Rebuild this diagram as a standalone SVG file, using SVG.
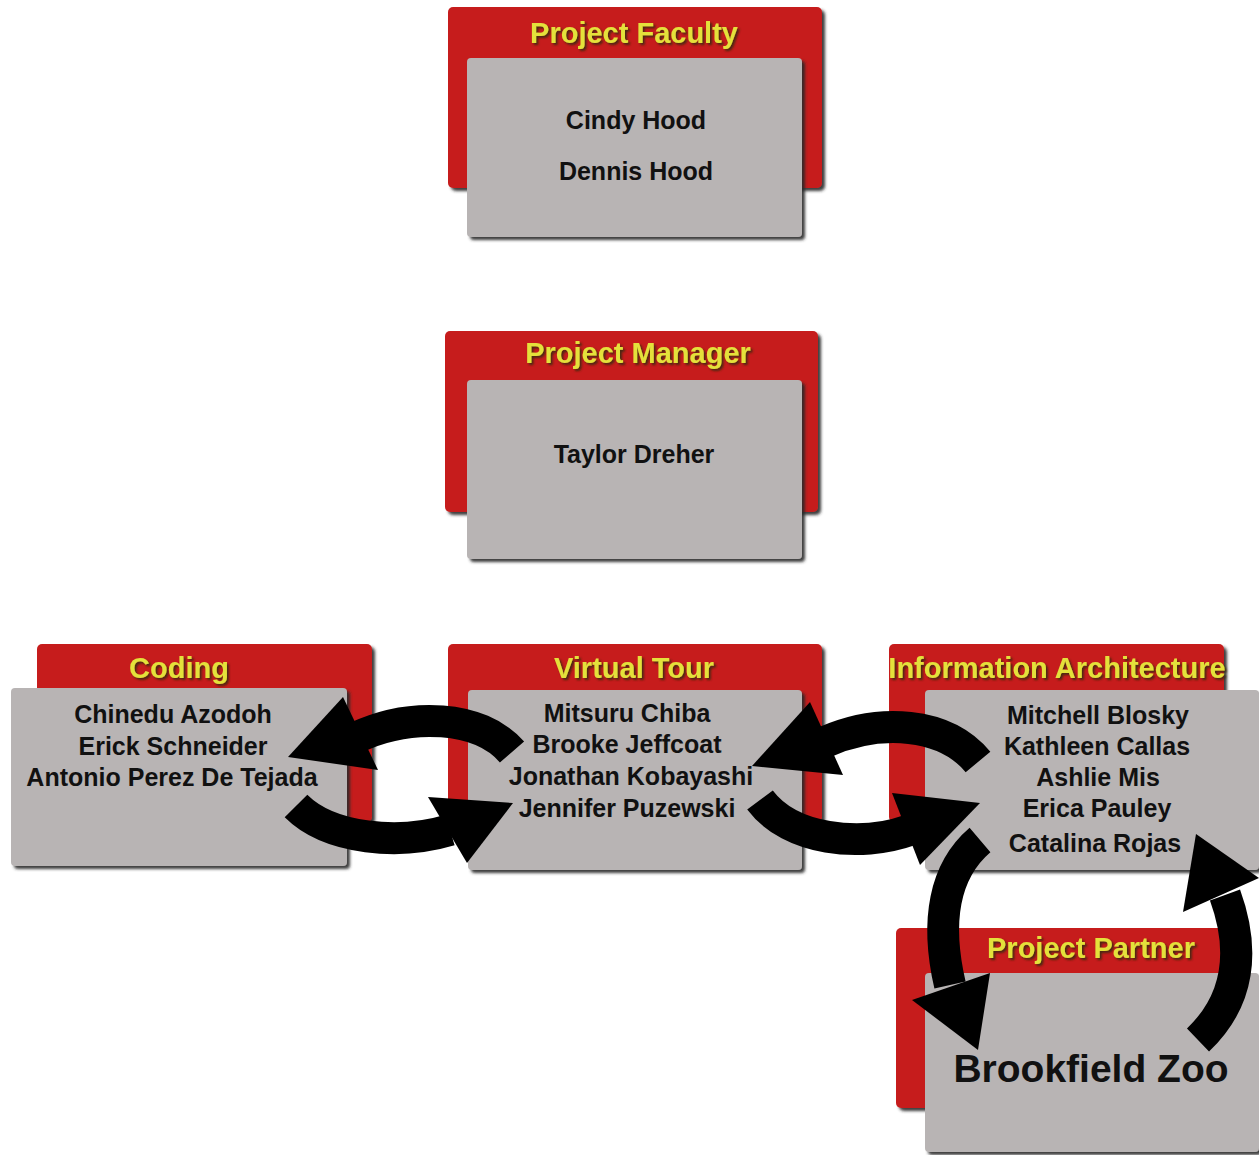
<svg xmlns="http://www.w3.org/2000/svg" width="1259" height="1155" viewBox="0 0 1259 1155">
<defs>
<filter id="sh" x="-5%" y="-5%" width="115%" height="115%"><feDropShadow dx="3" dy="3" stdDeviation="1.5" flood-color="#2a2a2a" flood-opacity="0.9"/></filter>
<filter id="tsh" x="-5%" y="-20%" width="115%" height="150%"><feDropShadow dx="2" dy="2" stdDeviation="1" flood-color="#3a2a10" flood-opacity="0.9"/></filter>
<style>
.red{fill:#c61f1f;filter:url(#sh)}
.gray{fill:#b8b4b4;filter:url(#sh)}
.title{font-family:"Liberation Sans",Arial,sans-serif;font-weight:bold;font-size:29px;fill:#e4e13a;text-anchor:middle;filter:url(#tsh)}
.name{font-family:"Liberation Sans",Arial,sans-serif;font-weight:bold;font-size:25px;fill:#111;text-anchor:middle}
.big{font-family:"Liberation Sans",Arial,sans-serif;font-weight:bold;font-size:39px;fill:#111;text-anchor:middle}
.shaft{fill:none;stroke:#000;stroke-width:32}
.head{fill:#000}
</style>
</defs>

<g id="faculty">
<rect class="red" x="448" y="7" width="374" height="181" rx="5"/>
<rect class="gray" x="467" y="58" width="335" height="179" rx="4"/>
<text class="title" x="634" y="43">Project Faculty</text>
<text class="name" x="636" y="129">Cindy Hood</text>
<text class="name" x="636" y="180">Dennis Hood</text>
</g>

<g id="manager">
<rect class="red" x="445" y="331" width="373" height="181" rx="5"/>
<rect class="gray" x="467" y="380" width="335" height="179" rx="4"/>
<text class="title" x="638" y="363">Project Manager</text>
<text class="name" x="634" y="463">Taylor Dreher</text>
</g>

<g id="coding">
<rect class="red" x="37" y="644" width="335" height="178" rx="5"/>
<rect class="gray" x="11" y="688" width="336" height="178" rx="4"/>
<text class="title" x="179" y="678">Coding</text>
<text class="name" x="173" y="723">Chinedu Azodoh</text>
<text class="name" x="173" y="755">Erick Schneider</text>
<text class="name" x="172" y="786">Antonio Perez De Tejada</text>
</g>

<g id="virtualtour">
<rect class="red" x="448" y="644" width="374" height="178" rx="5"/>
<rect class="gray" x="468" y="690" width="334" height="180" rx="4"/>
<text class="title" x="634" y="678">Virtual Tour</text>
<text class="name" x="627" y="722">Mitsuru Chiba</text>
<text class="name" x="627" y="753">Brooke Jeffcoat</text>
<text class="name" x="631" y="785">Jonathan Kobayashi</text>
<text class="name" x="627" y="817">Jennifer Puzewski</text>
</g>

<g id="infoarch">
<rect class="red" x="889" y="644" width="335" height="178" rx="5"/>
<rect class="gray" x="925" y="690" width="334" height="180" rx="4"/>
<text class="title" x="1057" y="678">Information Architecture</text>
<text class="name" x="1098" y="724">Mitchell Blosky</text>
<text class="name" x="1097" y="755">Kathleen Callas</text>
<text class="name" x="1098" y="786">Ashlie Mis</text>
<text class="name" x="1097" y="817">Erica Pauley</text>
<text class="name" x="1095" y="852">Catalina Rojas</text>
</g>

<g id="partner">
<rect class="red" x="896" y="928" width="334" height="180" rx="5"/>
<rect class="gray" x="925" y="973" width="334" height="179" rx="4"/>
<text class="title" x="1091" y="958">Project Partner</text>
<text class="big" x="1091" y="1082">Brookfield Zoo</text>
</g>

<g id="connectors">
<path class="shaft" d="M512 752 C480 715 410 712 355 738"/>
<polygon class="head" points="288,757 343,697 378,770"/>
<path class="shaft" d="M296 806 C330 840 400 845 450 830"/>
<polygon class="head" points="428,797 513,803 467,863"/>
<path class="shaft" d="M978 762 C945 722 880 718 825 742"/>
<polygon class="head" points="752,766 810,702 843,775"/>
<path class="shaft" d="M760 800 C790 840 860 848 910 830"/>
<polygon class="head" points="892,793 980,803 920,865"/>
<path class="shaft" d="M980 840 C945 870 935 920 950 985"/>
<polygon class="head" points="912,1000 990,973 978,1050"/>
<path class="shaft" d="M1198 1040 C1240 1000 1245 950 1225 895"/>
<polygon class="head" points="1183,912 1259,878 1196,834"/>
</g>
</svg>
